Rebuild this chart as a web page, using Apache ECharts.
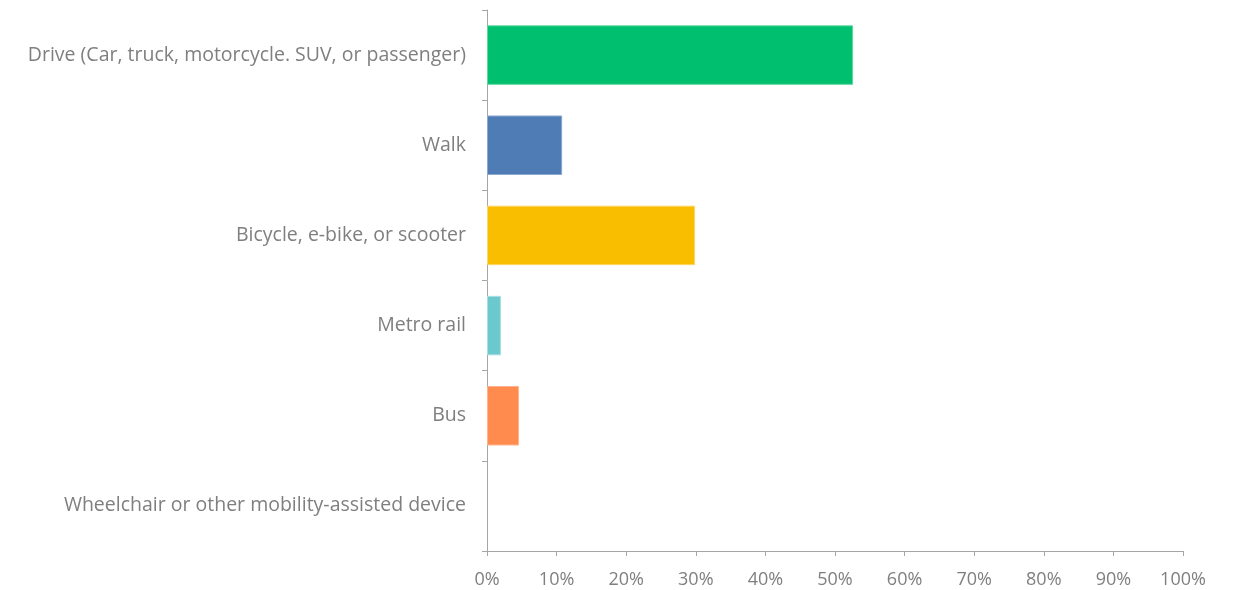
<!DOCTYPE html>
<html>
<head>
<meta charset="utf-8">
<script src="https://cdn.jsdelivr.net/npm/echarts@6/dist/echarts.min.js"></script>
<style>
  html, body { margin: 0; padding: 0; background: #ffffff; }
  #chart { width: 1245px; height: 590px; }
</style>
</head>
<body>
<div id="chart"></div>
<script>
// Commute mode shares (percent of respondents)
const categories = [
  'Drive (Car, truck, motorcycle. SUV, or passenger)',
  'Walk',
  'Bicycle, e-bike, or scooter',
  'Metro rail',
  'Bus',
  'Wheelchair or other mobility-assisted device'
];
const values = [52.6, 10.8, 29.9, 2.0, 4.6, 0];
const barColors = ['#00BF6F', '#507CB6', '#F9BE00', '#6BC8CD', '#FF8B4F', '#A0A0A0'];
const borderColors = ['#5FD9A0', '#8AA8D2', '#FCD766', '#A8E0E3', '#FFB48D', '#C8C8C8'];
const xTicks = [0, 10, 20, 30, 40, 50, 60, 70, 80, 90, 100];

const axisGray = '#A6A6A6';
const textGray = '#7F7F7F';
const font = 'Open Sans';

const chart = echarts.init(document.getElementById('chart'), null, { renderer: 'canvas' });
chart.setOption({
  animation: false,
  grid: { left: 487, right: 62, top: 10, bottom: 39, containLabel: false },
  xAxis: {
    type: 'value',
    min: xTicks[0],
    max: xTicks[xTicks.length - 1],
    interval: xTicks[1] - xTicks[0],
    axisLine: { show: true, lineStyle: { color: axisGray, width: 1 } },
    axisTick: { show: true, length: 5, lineStyle: { color: axisGray } },
    splitLine: { show: false },
    axisLabel: {
      color: textGray, fontFamily: font, fontSize: 18, margin: 20,
      formatter: v => v + '%'
    }
  },
  yAxis: {
    type: 'category',
    inverse: true,
    data: categories,
    axisLine: { show: true, lineStyle: { color: axisGray, width: 1 } },
    axisTick: { show: true, length: 5, lineStyle: { color: axisGray } },
    axisLabel: { color: textGray, fontFamily: font, fontSize: 19.5, margin: 21 }
  },
  series: [{
    type: 'bar',
    barWidth: '66%',
    data: values.map((v, i) => ({
      value: v,
      itemStyle: { color: barColors[i], borderColor: borderColors[i], borderWidth: v > 0 ? 1 : 0 }
    }))
  }]
});
</script>
</body>
</html>
